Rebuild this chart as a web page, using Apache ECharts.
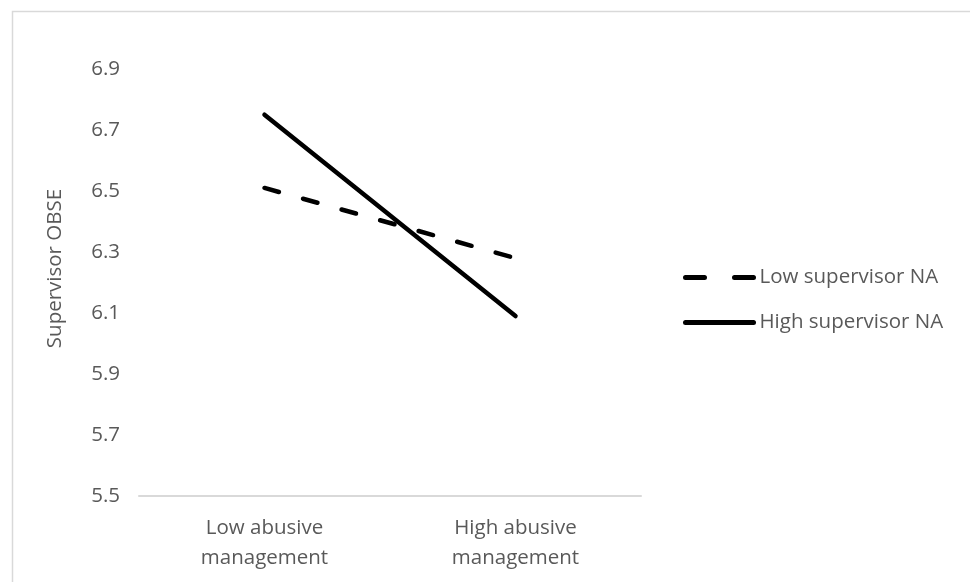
<!DOCTYPE html>
<html>
<head>
<meta charset="utf-8">
<script src="https://cdn.jsdelivr.net/npm/echarts@6/dist/echarts.min.js"></script>
<style>
  html, body { margin: 0; padding: 0; background: #fff; }
  #chart { width: 970px; height: 582px; }
</style>
</head>
<body>
<div id="chart"></div>
<script>
const categories = ['Low abusive\nmanagement', 'High abusive\nmanagement'];
const lowNA = [6.51, 6.28];
const highNA = [6.75, 6.09];
const seriesNames = ['Low supervisor NA', 'High supervisor NA'];

const textColor = '#595959';
const font = 'Open Sans';
const fontSize = 20.5;

const chart = echarts.init(document.getElementById('chart'));
chart.setOption({
    animation: false,
    backgroundColor: '#fff',
    grid: { left: 139, right: 329, top: 69, bottom: 86 },
    xAxis: {
        type: 'category',
        data: categories,
        boundaryGap: true,
        axisLine: { lineStyle: { color: '#d9d9d9', width: 2 } },
        axisTick: { show: false },
        axisLabel: {
            color: textColor, fontFamily: font, fontSize,
            lineHeight: 30, margin: 17
        }
    },
    yAxis: {
        type: 'value',
        min: 5.5,
        max: 6.9,
        interval: 0.2,
        name: 'Supervisor OBSE',
        nameLocation: 'middle',
        nameGap: 73,
        nameTextStyle: {
            color: textColor, fontFamily: font, fontSize,
            padding: [0, 0, 0, 28]
        },
        axisLine: { show: false },
        axisTick: { show: false },
        splitLine: { show: false },
        axisLabel: {
            color: textColor, fontFamily: font, fontSize, margin: 19,
            formatter: v => v.toFixed(1)
        }
    },
    legend: {
        orient: 'vertical',
        left: 678,
        top: 262,
        itemWidth: 68,
        itemHeight: 14,
        itemGap: 24,
        itemStyle: { opacity: 0 },
        lineStyle: { color: '#000', width: 5, cap: 'round' },
        textStyle: {
            color: textColor, fontFamily: font, fontSize,
            lineHeight: 20, padding: [0, 0, 0, 1]
        },
        data: [
            { name: seriesNames[0], lineStyle: { color: '#000', width: 5, cap: 'round', type: [19, 30] } },
            { name: seriesNames[1], lineStyle: { color: '#000', width: 5, cap: 'round', type: 'solid' } }
        ]
    },
    series: [
        {
            name: seriesNames[0],
            type: 'line',
            data: lowNA,
            symbol: 'none',
            lineStyle: { color: '#000', width: 4.5, type: [15, 25], cap: 'round' },
            itemStyle: { color: '#000' }
        },
        {
            name: seriesNames[1],
            type: 'line',
            data: highNA,
            symbol: 'none',
            lineStyle: { color: '#000', width: 4.5, type: 'solid', cap: 'round' },
            itemStyle: { color: '#000' }
        }
    ],
    graphic: [
        {
            type: 'rect',
            shape: { x: 12.5, y: 11.5, width: 1000, height: 1000 },
            style: { fill: 'none', stroke: '#d9d9d9', lineWidth: 1.5 },
            silent: true
        }
    ]
});
</script>
</body>
</html>
